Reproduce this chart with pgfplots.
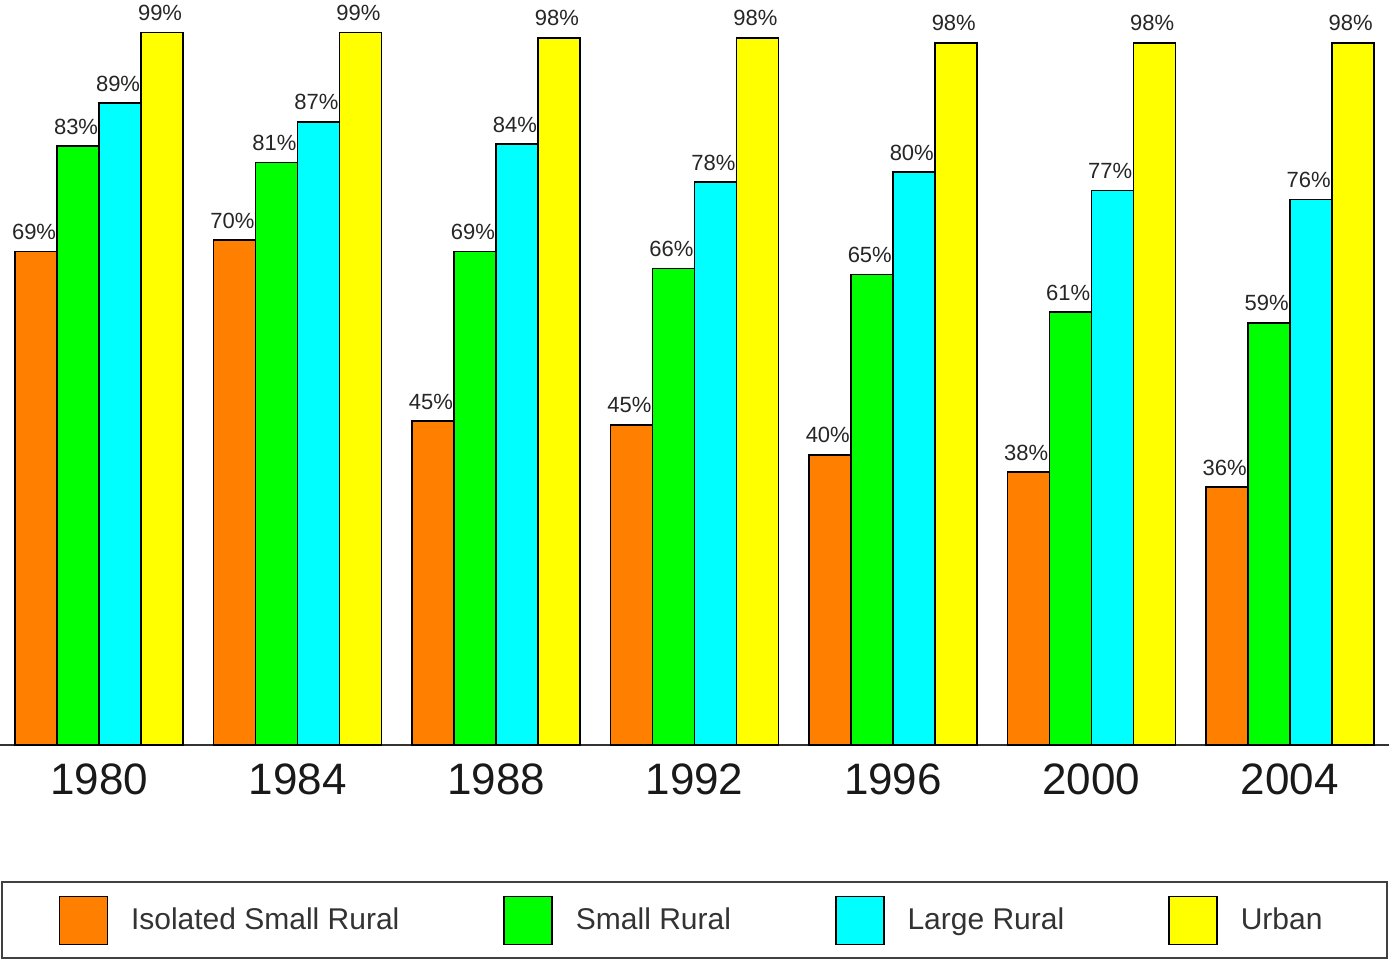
\documentclass[border=0pt]{standalone}
\usepackage{pgfplots}
\pgfplotsset{compat=1.18}
\usepackage{fontspec}
\setmainfont{Liberation Sans}
\definecolor{cOr}{HTML}{FF8000}
\definecolor{cGr}{HTML}{00FF00}
\definecolor{cCy}{HTML}{00FFFF}
\definecolor{cYe}{HTML}{FFFF00}
\begin{document}
\begin{tikzpicture}
\begin{axis}[name=ax, scale only axis, width=694.5pt, height=359pt,
 xmin=-0.5, xmax=6.5, ymin=0, ymax=100,
 ybar=0pt, bar width=21pt,
 axis x line*=bottom, axis y line=none,
 x axis line style={line width=1pt, color=black!80},
 xtick={0,...,6}, xticklabels={1980,1984,1988,1992,1996,2000,2004},
 xtick style={draw=none},
 xticklabel style={font=\fontsize{22}{22}\selectfont, yshift=-1.5pt, text=black!90},
 ytick=\empty,
 clip=false,
 nodes near coords, point meta=explicit symbolic,
 every node near coord/.append style={font=\fontsize{11}{11}\selectfont, anchor=south east, inner sep=0pt, xshift=10.3pt, yshift=5.5pt, text=black!85},
 every axis plot/.append style={draw=black, line width=0.75pt},
 legend columns=4,
 legend style={draw=none, at={(0.5,0)}, anchor=center, xshift=-1pt, yshift=-87.75pt, font=\fontsize{15}{15}\selectfont, text=black!80,
   /tikz/every odd column/.append style={column sep=9.5pt},
   /tikz/every even column/.append style={column sep=50pt}},
 legend image code/.code={\draw[#1] (0pt,-12pt) rectangle (24pt,12pt);},
]
\addplot[fill=cOr] coordinates {(0,68.7) [69\%] (1,70.3) [70\%] (2,45.1) [45\%] (3,44.6) [45\%] (4,40.4) [40\%] (5,38.0) [38\%] (6,35.9) [36\%]};
\addplot[fill=cGr] coordinates {(0,83.4) [83\%] (1,81.1) [81\%] (2,68.7) [69\%] (3,66.4) [66\%] (4,65.5) [65\%] (5,60.3) [61\%] (6,58.8) [59\%]};
\addplot[fill=cCy] coordinates {(0,89.4) [89\%] (1,86.8) [87\%] (2,83.7) [84\%] (3,78.4) [78\%] (4,79.8) [80\%] (5,77.2) [77\%] (6,76.0) [76\%]};
\addplot[fill=cYe] coordinates {(0,99.2) [99\%] (1,99.2) [99\%] (2,98.5) [98\%] (3,98.5) [98\%] (4,97.8) [98\%] (5,97.8) [98\%] (6,97.8) [98\%]};
\legend{Isolated Small Rural, Small Rural, Large Rural, Urban}
\end{axis}
\draw[line width=1pt, black!75] ([xshift=1pt,yshift=-68.5pt]ax.south west) rectangle ([xshift=-1pt,yshift=-106.5pt]ax.south east);
\pgfresetboundingbox
\path ([yshift=-107pt]ax.south west) rectangle ([yshift=13.5pt]ax.north east);
\end{tikzpicture}
\end{document}
